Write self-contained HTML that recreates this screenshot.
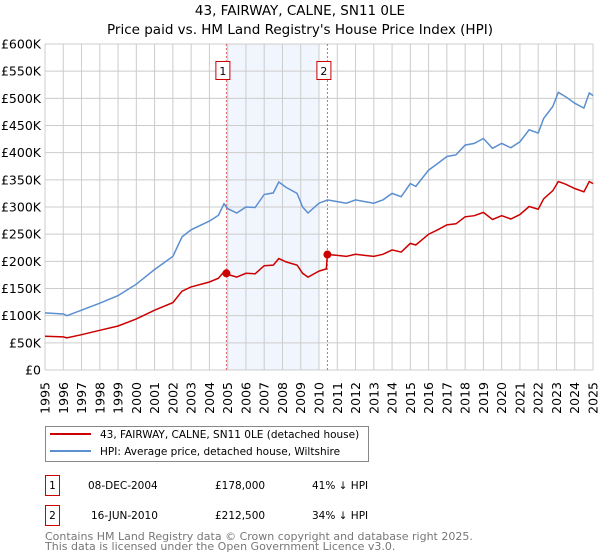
<!DOCTYPE html>
<html><head><meta charset="utf-8"><style>
body{margin:0;background:#fff;}
svg{display:block;font-family:"DejaVu Sans","Liberation Sans",sans-serif;}
</style></head><body>
<svg id="c" width="600" height="560" xmlns="http://www.w3.org/2000/svg">
<text x="300" y="15" text-anchor="middle" font-size="13.5">43, FAIRWAY, CALNE, SN11 0LE</text>
<text x="300" y="34" text-anchor="middle" font-size="13.5">Price paid vs. HM Land Registry's House Price Index (HPI)</text>
<g id="grid"></g><g id="axes"></g><g id="series"></g>
<g>
<rect x="45.5" y="426.5" width="323" height="35" fill="#fff" stroke="#888"/>
<line x1="50" y1="434" x2="91" y2="434" stroke="#cc0000" stroke-width="2"/>
<text x="100" y="438" font-size="10.5">43, FAIRWAY, CALNE, SN11 0LE (detached house)</text>
<line x1="50" y1="451" x2="91" y2="451" stroke="#5b8fd0" stroke-width="2"/>
<text x="100" y="455" font-size="10.5">HPI: Average price, detached house, Wiltshire</text>
</g>
<g font-size="10.5">
<rect x="45.5" y="475.5" width="14" height="20" fill="#fff" stroke="#cc0000"/>
<text x="52.5" y="489" text-anchor="middle">1</text>
<text x="88" y="489">08-DEC-2004</text><text x="215" y="489">£178,000</text><text x="312" y="489">41% ↓ HPI</text>
<rect x="45.5" y="505.5" width="14" height="20" fill="#fff" stroke="#cc0000"/>
<text x="52.5" y="519" text-anchor="middle">2</text>
<text x="91" y="519">16-JUN-2010</text><text x="215" y="519">£212,500</text><text x="312" y="519">34% ↓ HPI</text>
</g>
<text x="45" y="540" font-size="11" fill="#777">Contains HM Land Registry data © Crown copyright and database right 2025.</text>
<text x="45" y="550" font-size="11" fill="#777">This data is licensed under the Open Government Licence v3.0.</text>
</svg>
<script>
const years=[1995,1996,1996.2,1997,1998,1999,2000,2001,2002,2002.5,2003,2004,2004.5,2004.8,2004.93,2005,2005.5,2006,2006.5,2007,2007.5,2007.8,2008.2,2008.8,2009.1,2009.4,2010,2010.4,2010.46,2011,2011.5,2012,2012.5,2013,2013.5,2014,2014.5,2015,2015.3,2016,2016.5,2017,2017.5,2018,2018.5,2019,2019.5,2020,2020.5,2021,2021.5,2022,2022.3,2022.8,2023.1,2023.5,2024,2024.5,2024.8,2025];
const hpiValues=[105,103,100,110,123,137,158,185,209,245,258,274,285,306,300,297,289,300,299,323,326,346,336,325,300,289,307,312,313,310,307,313,310,307,313,325,319,343,338,368,380,393,396,414,417,426,408,417,409,420,442,436,463,485,511,503,491,482,510,505];
const priceValues=[62,61,59,65,73,81,94,110,124,145,153,162,169,181,178,176,171,178,177,192,193,205,199,193,178,171,182,186,212.5,211,209,213,211,209,213,221,217,233,230,250,258,267,269,282,284,290,277,284,278,286,301,296,315,330,347,342,334,328,347,343];
const saleYears=[2004.93,2010.46];
const saleValues=[178,212.5];
const saleLabels=["1","2"];
const yTicks=[0,50,100,150,200,250,300,350,400,450,500,550,600];
const yTickLabels=["£0","£50K","£100K","£150K","£200K","£250K","£300K","£350K","£400K","£450K","£500K","£550K","£600K"];
const xTicks=[1995,1996,1997,1998,1999,2000,2001,2002,2003,2004,2005,2006,2007,2008,2009,2010,2011,2012,2013,2014,2015,2016,2017,2018,2019,2020,2021,2022,2023,2024,2025];
const shadeRange=[2004.93,2010.0];

const NS="http://www.w3.org/2000/svg";
const X0=45,X1=593,Y0=370,Y1=44;
const xs=y=>X0+(y-1995)/30*(X1-X0);
const ys=v=>Y0-v/600*(Y0-Y1);
function mk(tag,attrs,parent){const e=document.createElementNS(NS,tag);for(const k in attrs)e.setAttribute(k,attrs[k]);parent.appendChild(e);return e;}
const grid=document.getElementById('grid'),axes=document.getElementById('axes'),ser=document.getElementById('series');
const sh=mk('rect',{x:xs(shadeRange[0]),y:Y1,width:xs(shadeRange[1])-xs(shadeRange[0]),height:Y0-Y1,fill:'#eef3fc',opacity:0.8},grid);


yTicks.forEach((t,i)=>{
  mk('line',{x1:X0,x2:X1,y1:ys(t),y2:ys(t),stroke:'#ccc'},grid);
  const tx=mk('text',{x:X0-4,y:ys(t)+4.5,'text-anchor':'end','font-size':12.5},axes);tx.textContent=yTickLabels[i];
  
  
});
xTicks.forEach(t=>{
  mk('line',{x1:xs(t),x2:xs(t),y1:Y1,y2:Y0,stroke:'#ccc'},grid);
  const tx=mk('text',{x:0,y:0,'text-anchor':'end','font-size':12.5,transform:`translate(${xs(t)+4.5},${Y0+12}) rotate(-90)`},axes);tx.textContent=t;
  
  
});
saleYears.forEach((sy,i)=>{
  const l=mk('line',{x1:xs(sy),x2:xs(sy),y1:Y1,y2:Y0,stroke:'#e06060','stroke-dasharray':'2,2'},grid);
  
  
  const bx=xs(sy);
  const r=mk('rect',{x:bx-10.5,y:61.5,width:14,height:18,fill:'#fff',stroke:'#cc0000'},ser);
  
  
  const t=mk('text',{x:bx-3.5,y:75,'text-anchor':'middle','font-size':11},ser);t.textContent=saleLabels[i];
});
function line(vals,color,name){
  const d=years.map((y,i)=>(i?'L':'M')+xs(y).toFixed(1)+','+ys(vals[i]).toFixed(1)).join('');
  const p=mk('path',{d:d,fill:'none',stroke:color,'stroke-width':1.5},ser);
  
  
}
line(hpiValues,'#5b8fd0','hpi-line');
line(priceValues,'#cc0000','price-paid-line');
saleYears.forEach((sy,i)=>{
  const c=mk('circle',{cx:xs(sy),cy:ys(saleValues[i]),r:4,fill:'#cc0000'},ser);
  
  
});
</script>
</body></html>
